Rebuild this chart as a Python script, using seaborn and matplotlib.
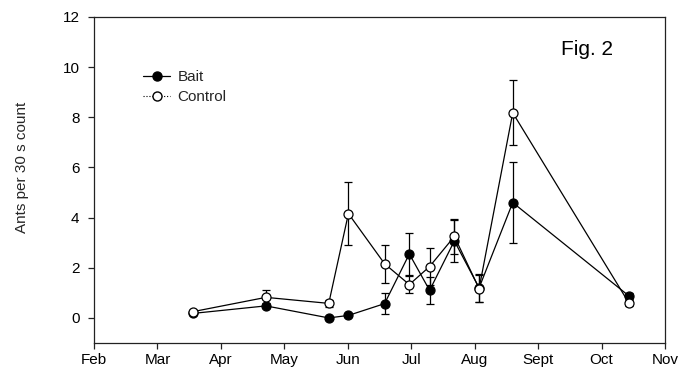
import matplotlib
matplotlib.use("Agg")
import matplotlib.pyplot as plt
from matplotlib.lines import Line2D
import numpy as np
import pandas as pd
import seaborn as sns

# Sampling dates expressed as fractional month number (Feb = 2 ... Nov = 11)
sample_month = [3.56, 4.71, 5.70, 6.01, 6.58, 6.97, 7.29, 7.68, 8.07, 8.60, 10.43]

bait_mean = [0.18, 0.48, 0.0, 0.1, 0.57, 2.55, 1.1, 3.07, 1.2, 4.6, 0.88]
bait_se = [0.05, 0.1, 0.0, 0.0, 0.42, 0.82, 0.55, 0.85, 0.55, 1.6, 0.12]

control_mean = [0.25, 0.82, 0.58, 4.16, 2.16, 1.33, 2.05, 3.25, 1.17, 8.18, 0.6]
control_se = [0.05, 0.28, 0.15, 1.25, 0.75, 0.33, 0.75, 0.7, 0.55, 1.3, 0.12]

month_ticks = [2, 3, 4, 5, 6, 7, 8, 9, 10, 11]
month_labels = ["Feb", "Mar", "Apr", "May", "Jun", "Jul", "Aug", "Sept", "Oct", "Nov"]
y_ticks = [0, 2, 4, 6, 8, 10, 12]

sns.set_theme(style="ticks")
plt.rcParams["font.family"] = ["Liberation Sans", "DejaVu Sans"]

df = pd.DataFrame({
    "month": sample_month * 2,
    "ants": bait_mean + control_mean,
    "se": bait_se + control_se,
    "treatment": ["Bait"] * len(bait_mean) + ["Control"] * len(control_mean),
})

fig = plt.figure(figsize=(6.79, 3.68), dpi=100)
ax = fig.add_axes([94 / 679, 1 - 343 / 368, (665 - 94) / 679, (343 - 17) / 368])

# Error bars first so the markers sit on top of them
for name in ["Control", "Bait"]:
    sub = df[df.treatment == name]
    ax.errorbar(sub.month, sub.ants, yerr=sub.se, fmt="none", ecolor="black",
                elinewidth=0.9, capsize=3, capthick=0.9, zorder=2)

styles = {
    "Bait": dict(mfc="black", mec="black"),
    "Control": dict(mfc="white", mec="black"),
}
for name in ["Control", "Bait"]:
    sub = df[df.treatment == name]
    sns.lineplot(data=sub, x="month", y="ants", ax=ax, color="black",
                 linewidth=0.9, marker="o", markersize=6.5,
                 markerfacecolor=styles[name]["mfc"],
                 markeredgecolor=styles[name]["mec"], markeredgewidth=0.9,
                 estimator=None, sort=False, zorder=3 if name == "Bait" else 4)

ax.set_xlim(2, 11)
ax.set_ylim(-1, 12)
ax.set_xticks(month_ticks)
ax.set_xticklabels(month_labels)
ax.set_yticks(y_ticks)
ax.set_xlabel("")
ax.set_ylabel("Ants per 30 s count", fontsize=11, labelpad=0)
ax.yaxis.set_label_coords(-0.114, 0.54)

for side in ["top", "right", "bottom", "left"]:
    ax.spines[side].set_visible(True)
    ax.spines[side].set_linewidth(0.9)
    ax.spines[side].set_color("#222222")
ax.tick_params(axis="both", direction="out", length=4.5, width=0.9,
               labelsize=11, colors="#222222", labelcolor="black")
ax.tick_params(axis="y", pad=6)
ax.tick_params(axis="x", pad=3)

ax.text(0.909, 0.899, "Fig. 2", transform=ax.transAxes, fontsize=15,
        ha="right", va="center", color="black")

handles = [
    Line2D([0], [0], color="black", linewidth=0.9, linestyle="-", marker="o",
           markersize=6.5, mfc="black", mec="black"),
    Line2D([0], [0], color="black", linewidth=0.8, linestyle=":", marker="o",
           markersize=6.5, mfc="white", mec="black"),
]
ax.legend(handles, ["Bait", "Control"], loc="upper left",
          bbox_to_anchor=(0.075, 0.856), frameon=False, fontsize=11,
          handlelength=1.8, handletextpad=0.45, labelspacing=0.4,
          borderaxespad=0)

fig.savefig("out.png", dpi=100)
